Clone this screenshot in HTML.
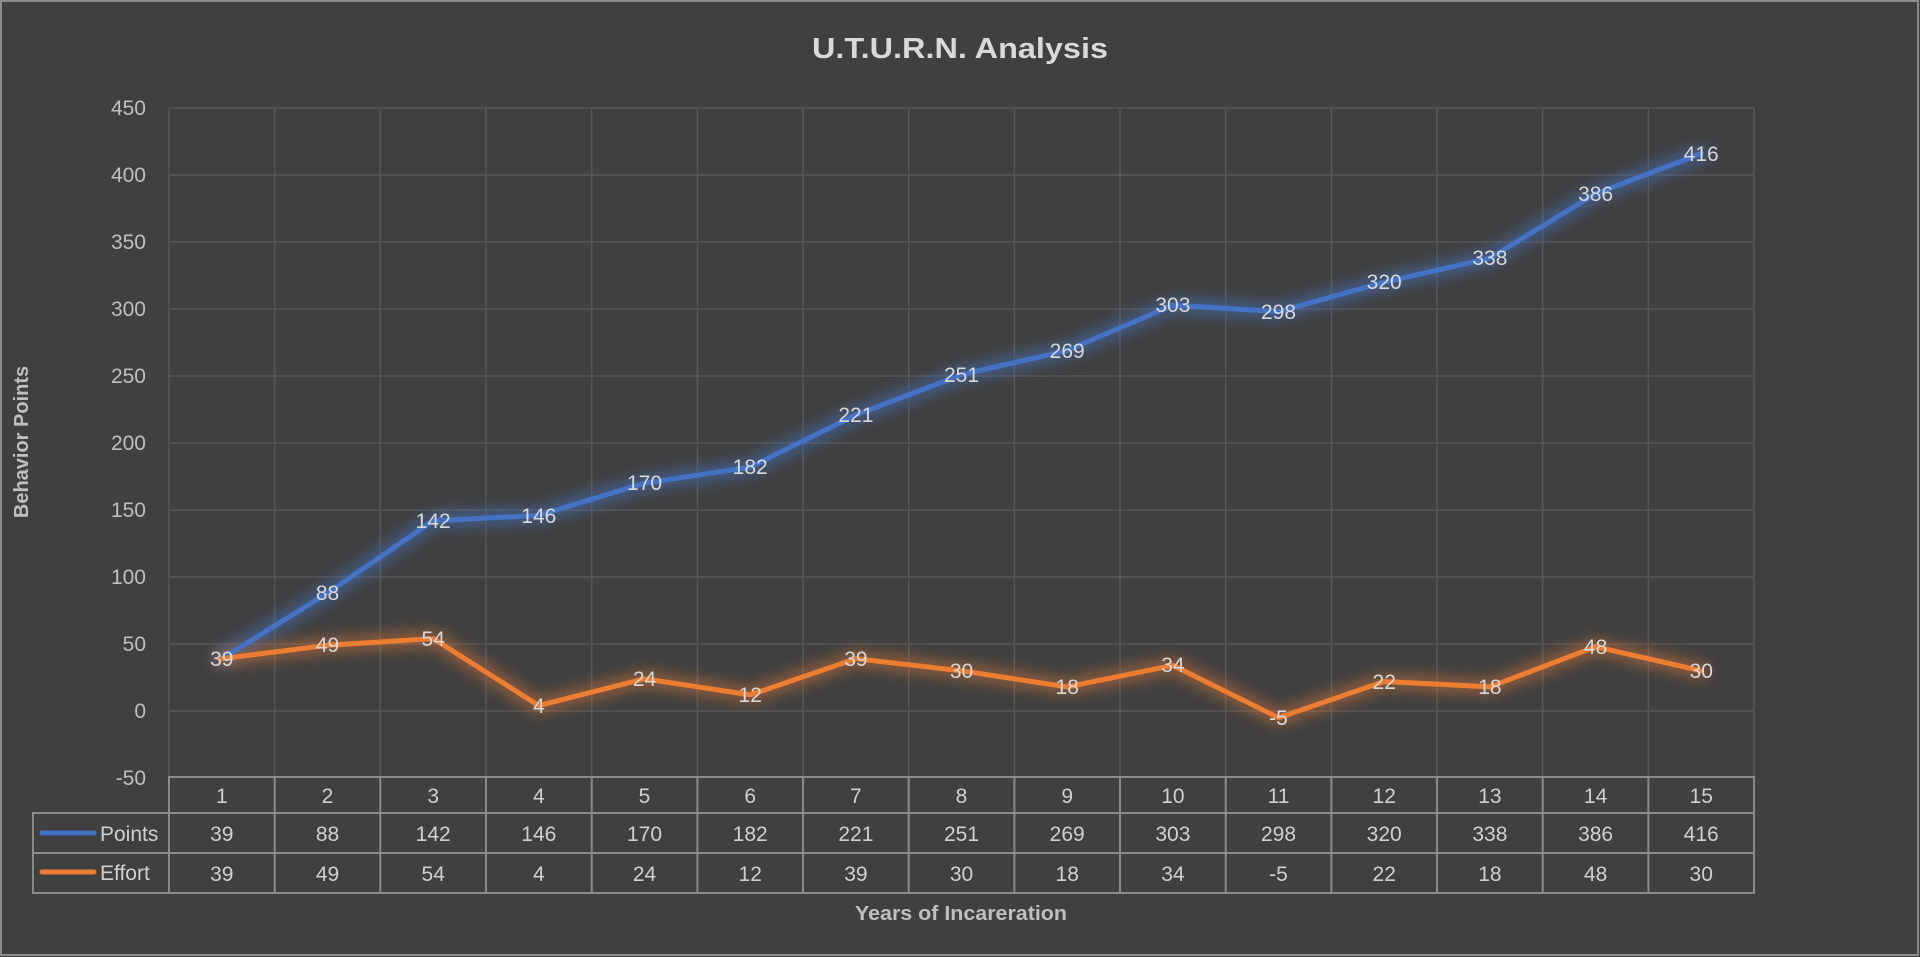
<!DOCTYPE html>
<html><head><meta charset="utf-8"><style>
html,body{margin:0;padding:0;background:#404040;}
svg{display:block}
text{font-family:"Liberation Sans",sans-serif;}
</style></head><body>
<svg width="1920" height="957" viewBox="0 0 1920 957" xmlns="http://www.w3.org/2000/svg">
<defs>
<filter id="glow" x="-10%" y="-50%" width="120%" height="200%"><feGaussianBlur stdDeviation="7"/></filter>
</defs>
<rect x="0" y="0" width="1920" height="957" fill="#404040"/>
<rect x="1" y="1" width="1917" height="954" fill="none" stroke="#8c8c8c" stroke-width="2"/>
<text x="960" y="58" text-anchor="middle" font-size="29" font-weight="bold" fill="#d9d9d9" textLength="296" lengthAdjust="spacingAndGlyphs">U.T.U.R.N. Analysis</text>
<g stroke="#575757" stroke-width="1.5">
<line x1="169" y1="108" x2="1754" y2="108"/><line x1="169" y1="175" x2="1754" y2="175"/>
<line x1="169" y1="242" x2="1754" y2="242"/><line x1="169" y1="309" x2="1754" y2="309"/>
<line x1="169" y1="376" x2="1754" y2="376"/><line x1="169" y1="443" x2="1754" y2="443"/>
<line x1="169" y1="510" x2="1754" y2="510"/><line x1="169" y1="577" x2="1754" y2="577"/>
<line x1="169" y1="644" x2="1754" y2="644"/><line x1="169" y1="711" x2="1754" y2="711"/>
<line x1="169" y1="108" x2="169" y2="777"/><line x1="274.7" y1="108" x2="274.7" y2="777"/>
<line x1="380.3" y1="108" x2="380.3" y2="777"/><line x1="486" y1="108" x2="486" y2="777"/>
<line x1="591.7" y1="108" x2="591.7" y2="777"/><line x1="697.4" y1="108" x2="697.4" y2="777"/>
<line x1="803" y1="108" x2="803" y2="777"/><line x1="908.7" y1="108" x2="908.7" y2="777"/>
<line x1="1014.4" y1="108" x2="1014.4" y2="777"/><line x1="1120" y1="108" x2="1120" y2="777"/>
<line x1="1225.7" y1="108" x2="1225.7" y2="777"/><line x1="1331.4" y1="108" x2="1331.4" y2="777"/>
<line x1="1437" y1="108" x2="1437" y2="777"/><line x1="1542.7" y1="108" x2="1542.7" y2="777"/>
<line x1="1648.4" y1="108" x2="1648.4" y2="777"/><line x1="1754" y1="108" x2="1754" y2="777"/>
</g>
<g font-size="21" fill="#bfbfbf" text-anchor="end">
<text x="146" y="115">450</text><text x="146" y="182">400</text><text x="146" y="249">350</text>
<text x="146" y="316">300</text><text x="146" y="383">250</text><text x="146" y="450">200</text>
<text x="146" y="517">150</text><text x="146" y="584">100</text><text x="146" y="651">50</text>
<text x="146" y="718">0</text><text x="146" y="785">-50</text>
</g>
<text transform="translate(28,442) rotate(-90)" text-anchor="middle" font-size="20" font-weight="bold" fill="#bfbfbf">Behavior Points</text>
<text x="961" y="920" text-anchor="middle" font-size="20" font-weight="bold" fill="#bfbfbf" textLength="212" lengthAdjust="spacingAndGlyphs">Years of Incareration</text>
<g stroke="#8a8a8a" stroke-width="2" fill="none">
<rect x="169" y="777" width="1585" height="116"/>
<rect x="33" y="813" width="136" height="80"/>
<line x1="169" y1="813" x2="1754" y2="813"/><line x1="33" y1="853" x2="1754" y2="853"/>
<line x1="274.7" y1="777" x2="274.7" y2="893"/><line x1="380.3" y1="777" x2="380.3" y2="893"/>
<line x1="486" y1="777" x2="486" y2="893"/><line x1="591.7" y1="777" x2="591.7" y2="893"/>
<line x1="697.4" y1="777" x2="697.4" y2="893"/><line x1="803" y1="777" x2="803" y2="893"/>
<line x1="908.7" y1="777" x2="908.7" y2="893"/><line x1="1014.4" y1="777" x2="1014.4" y2="893"/>
<line x1="1120" y1="777" x2="1120" y2="893"/><line x1="1225.7" y1="777" x2="1225.7" y2="893"/>
<line x1="1331.4" y1="777" x2="1331.4" y2="893"/><line x1="1437" y1="777" x2="1437" y2="893"/>
<line x1="1542.7" y1="777" x2="1542.7" y2="893"/><line x1="1648.4" y1="777" x2="1648.4" y2="893"/>
</g>
<line x1="42" y1="833" x2="94" y2="833" stroke="#4472C4" stroke-width="5" stroke-linecap="round"/>
<line x1="42" y1="872" x2="94" y2="872" stroke="#ED7D31" stroke-width="5" stroke-linecap="round"/>
<g font-size="21" fill="#d0d0d0">
<text x="100" y="841">Points</text><text x="100" y="880">Effort</text>
</g>
<g font-size="21" fill="#d0d0d0" text-anchor="middle">
<text x="221.8" y="803">1</text><text x="327.5" y="803">2</text><text x="433.2" y="803">3</text><text x="538.8" y="803">4</text><text x="644.5" y="803">5</text><text x="750.2" y="803">6</text><text x="855.9" y="803">7</text><text x="961.5" y="803">8</text><text x="1067.2" y="803">9</text><text x="1172.9" y="803">10</text><text x="1278.5" y="803">11</text><text x="1384.2" y="803">12</text><text x="1489.9" y="803">13</text><text x="1595.6" y="803">14</text><text x="1701.2" y="803">15</text>
<text x="221.8" y="841">39</text><text x="327.5" y="841">88</text><text x="433.2" y="841">142</text><text x="538.8" y="841">146</text><text x="644.5" y="841">170</text><text x="750.2" y="841">182</text><text x="855.9" y="841">221</text><text x="961.5" y="841">251</text><text x="1067.2" y="841">269</text><text x="1172.9" y="841">303</text><text x="1278.5" y="841">298</text><text x="1384.2" y="841">320</text><text x="1489.9" y="841">338</text><text x="1595.6" y="841">386</text><text x="1701.2" y="841">416</text>
<text x="221.8" y="881">39</text><text x="327.5" y="881">49</text><text x="433.2" y="881">54</text><text x="538.8" y="881">4</text><text x="644.5" y="881">24</text><text x="750.2" y="881">12</text><text x="855.9" y="881">39</text><text x="961.5" y="881">30</text><text x="1067.2" y="881">18</text><text x="1172.9" y="881">34</text><text x="1278.5" y="881">-5</text><text x="1384.2" y="881">22</text><text x="1489.9" y="881">18</text><text x="1595.6" y="881">48</text><text x="1701.2" y="881">30</text>
</g>
<g fill="none" stroke-linejoin="round" stroke-linecap="round">
<polyline filter="url(#glow)" stroke="#4472C4" stroke-opacity="0.55" stroke-width="16" points="221.8,658.7 327.5,593.1 433.2,520.7 538.8,515.4 644.5,483.2 750.2,467.1 855.9,414.9 961.5,374.7 1067.2,350.5 1172.9,305 1278.5,311.7 1384.2,282.2 1489.9,258.1 1595.6,193.8 1701.2,153.6"/>
<polyline filter="url(#glow)" stroke="#ED7D31" stroke-opacity="0.45" stroke-width="16" points="221.8,658.7 327.5,645.3 433.2,638.6 538.8,705.6 644.5,678.8 750.2,694.9 855.9,658.7 961.5,670.8 1067.2,686.9 1172.9,665.4 1278.5,717.7 1384.2,681.5 1489.9,686.9 1595.6,646.7 1701.2,670.8"/>
<polyline stroke="#4472C4" stroke-width="5" points="221.8,658.7 327.5,593.1 433.2,520.7 538.8,515.4 644.5,483.2 750.2,467.1 855.9,414.9 961.5,374.7 1067.2,350.5 1172.9,305 1278.5,311.7 1384.2,282.2 1489.9,258.1 1595.6,193.8 1701.2,153.6"/>
<polyline stroke="#ED7D31" stroke-width="5" points="221.8,658.7 327.5,645.3 433.2,638.6 538.8,705.6 644.5,678.8 750.2,694.9 855.9,658.7 961.5,670.8 1067.2,686.9 1172.9,665.4 1278.5,717.7 1384.2,681.5 1489.9,686.9 1595.6,646.7 1701.2,670.8"/>
</g>
<g font-size="21" fill="#d9d9d9" text-anchor="middle">
<text x="221.8" y="666">39</text><text x="327.5" y="600">88</text><text x="433.2" y="528">142</text><text x="538.8" y="523">146</text><text x="644.5" y="490">170</text><text x="750.2" y="474">182</text><text x="855.9" y="422">221</text><text x="961.5" y="382">251</text><text x="1067.2" y="358">269</text><text x="1172.9" y="312">303</text><text x="1278.5" y="319">298</text><text x="1384.2" y="289">320</text><text x="1489.9" y="265">338</text><text x="1595.6" y="201">386</text><text x="1701.2" y="161">416</text>
<text x="327.5" y="652">49</text><text x="433.2" y="646">54</text><text x="538.8" y="713">4</text><text x="644.5" y="686">24</text><text x="750.2" y="702">12</text><text x="855.9" y="666">39</text><text x="961.5" y="678">30</text><text x="1067.2" y="694">18</text><text x="1172.9" y="672">34</text><text x="1278.5" y="725">-5</text><text x="1384.2" y="689">22</text><text x="1489.9" y="694">18</text><text x="1595.6" y="654">48</text><text x="1701.2" y="678">30</text>
</g>
</svg>
</body></html>
